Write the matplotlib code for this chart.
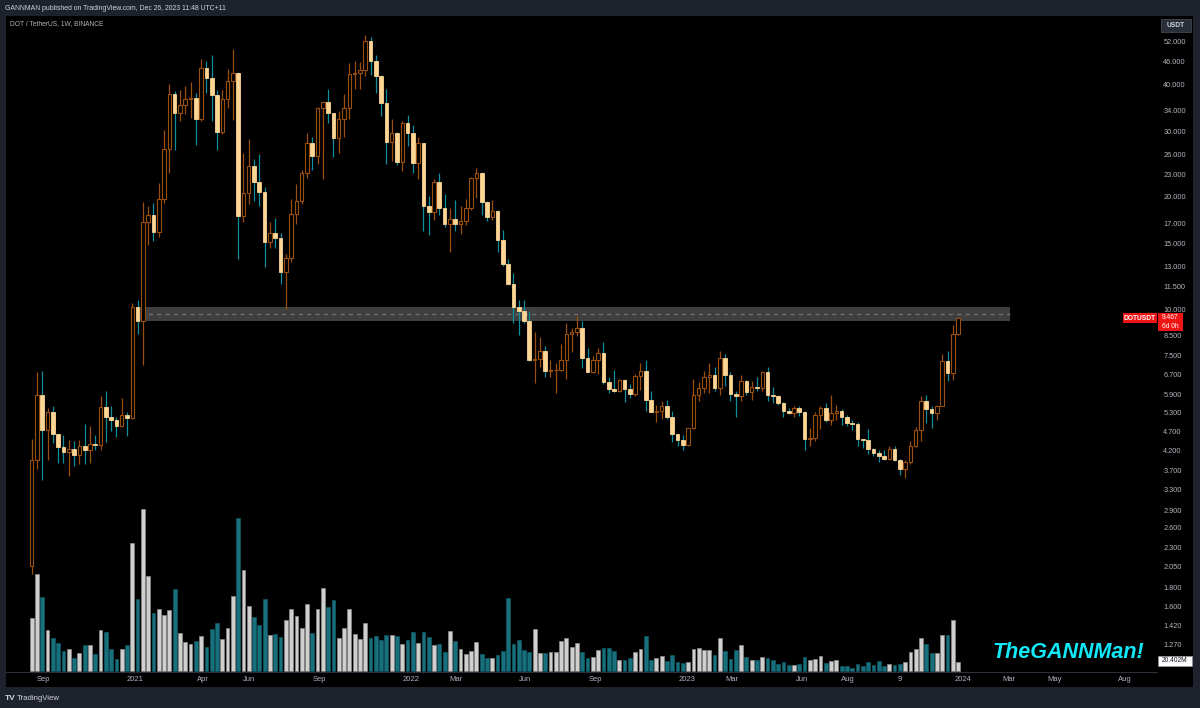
import numpy as np
import pandas as pd
import matplotlib
matplotlib.use('Agg')
import matplotlib.pyplot as plt
import matplotlib.dates as mdates
import matplotlib.ticker as mticker
from matplotlib.patches import Rectangle

# -----------------------------------------------------------------------------
# DOT / TetherUS weekly candles (Binance)
week_start = '2020-08-17'

opens = [
    2.05, 3.94, 5.9, 4.75, 5.3, 4.63, 4.27, 4.15, 4.22, 4.07,
    4.3, 4.2, 4.36, 4.32, 5.46, 5.15, 5.07, 4.88, 5.2, 5.13,
    10.15, 9.3, 17.1, 17.9, 16.1, 19.8, 26.9, 37.8, 33.5, 35.2,
    36.6, 36.9, 32.3, 44.4, 41.5, 37.5, 29.8, 36.6, 40.8, 42.9,
    17.8, 20.5, 24.2, 21.9, 20.6, 15.1, 16.0, 15.5, 12.6, 13.7,
    18.0, 19.5, 23.2, 27.8, 25.7, 34.5, 35.9, 33.5, 28.8, 32.3,
    34.5, 42.6, 42.9, 43.6, 52.3, 46.3, 42.1, 35.6, 28.1, 29.6,
    24.8, 31.6, 29.6, 24.7, 27.8, 18.9, 18.2, 21.9, 18.7, 16.9,
    17.5, 16.9, 17.2, 18.7, 22.5, 23.2, 19.4, 17.7, 18.3, 15.3,
    13.2, 11.7, 10.15, 9.9, 9.3, 7.3, 7.37, 7.75, 6.83, 6.87,
    6.9, 7.3, 8.6, 8.7, 8.9, 7.4, 6.8, 7.3, 7.64, 6.38,
    6.13, 6.05, 6.46, 6.13, 5.93, 6.63, 6.83, 5.72, 5.3, 5.33,
    5.52, 5.14, 4.63, 4.47, 4.34, 4.8, 5.9, 6.16, 6.6, 6.65,
    6.16, 7.4, 6.66, 5.93, 5.87, 6.42, 6.0, 6.2, 6.15, 6.8,
    5.9, 5.86, 5.6, 5.33, 5.28, 5.45, 5.3, 4.49, 4.52, 5.2,
    5.45, 5.05, 5.28, 5.35, 5.14, 4.96, 4.94, 4.49, 4.46, 4.22,
    4.13, 4.05, 3.98, 4.24, 3.96, 3.73, 3.9, 4.3, 4.75, 5.68,
    5.4, 5.27, 5.5, 7.28, 6.75, 8.6]

highs = [
    4.5, 6.79, 6.83, 5.44, 5.5, 4.65, 4.6, 4.46, 4.43, 4.46,
    4.93, 4.87, 4.6, 5.87, 6.04, 5.5, 5.15, 5.8, 5.3, 10.4,
    10.6, 19.4, 18.9, 19.3, 21.8, 30.2, 40.0, 38.5, 38.7, 39.7,
    40.5, 37.9, 46.9, 46.3, 48.0, 38.7, 38.7, 44.1, 49.9, 43.2,
    26.2, 28.6, 25.3, 26.0, 21.2, 17.1, 17.6, 16.0, 14.1, 19.8,
    21.6, 23.6, 29.6, 28.9, 34.9, 36.0, 38.9, 33.6, 33.9, 37.7,
    45.6, 46.3, 46.0, 54.3, 53.5, 48.0, 42.5, 38.9, 32.3, 29.8,
    31.9, 33.2, 31.2, 29.0, 27.9, 20.1, 22.4, 23.2, 20.4, 18.7,
    19.6, 18.9, 19.8, 22.6, 23.9, 23.3, 19.5, 19.6, 18.4, 16.3,
    13.6, 12.5, 10.6, 10.6, 9.9, 8.7, 8.45, 8.0, 7.3, 7.2,
    8.1, 9.2, 8.9, 9.6, 9.3, 7.9, 7.5, 7.9, 8.2, 6.6,
    6.9, 6.5, 6.5, 6.3, 6.72, 7.2, 7.3, 6.04, 5.55, 5.7,
    5.72, 5.34, 4.65, 4.6, 4.82, 6.5, 6.4, 6.85, 7.2, 7.0,
    7.75, 7.6, 6.8, 6.05, 6.66, 6.45, 6.42, 6.6, 6.85, 7.0,
    6.2, 5.9, 5.65, 5.45, 5.5, 5.5, 5.33, 4.8, 5.3, 5.5,
    5.6, 5.9, 5.55, 5.4, 5.2, 5.05, 5.0, 4.5, 4.78, 4.25,
    4.2, 4.2, 4.3, 4.3, 3.98, 3.95, 4.43, 4.85, 5.85, 5.9,
    5.5, 5.55, 7.6, 7.75, 9.1, 9.55]

lows = [
    1.95, 3.73, 3.5, 3.96, 4.38, 3.87, 3.87, 3.58, 3.81, 3.85,
    3.85, 3.87, 4.2, 4.2, 4.4, 4.72, 4.55, 4.83, 4.58, 5.1,
    8.6, 7.1, 14.9, 15.2, 15.6, 19.3, 23.2, 26.7, 31.9, 33.3,
    32.6, 27.6, 32.0, 37.9, 32.0, 26.7, 29.5, 34.5, 32.2, 13.6,
    17.1, 19.2, 19.5, 18.9, 13.0, 14.6, 14.6, 11.7, 10.0, 13.4,
    16.9, 19.2, 22.5, 23.6, 24.5, 22.4, 31.6, 25.5, 26.2, 29.0,
    32.3, 38.9, 38.9, 42.1, 42.5, 37.9, 32.9, 24.5, 25.0, 24.3,
    23.4, 27.4, 23.2, 22.4, 16.2, 15.8, 17.3, 17.9, 16.6, 14.2,
    16.2, 15.9, 16.8, 18.5, 19.9, 17.9, 17.2, 17.3, 14.2, 13.1,
    11.6, 9.2, 8.56, 9.2, 7.27, 6.35, 7.0, 6.6, 6.6, 5.97,
    6.83, 6.5, 7.7, 8.5, 6.95, 6.8, 6.75, 6.7, 6.3, 5.97,
    6.0, 6.0, 5.64, 5.8, 5.85, 6.1, 5.34, 5.3, 5.0, 5.1,
    5.1, 4.4, 4.3, 4.19, 4.3, 4.78, 5.68, 5.97, 5.97, 6.05,
    5.9, 6.25, 5.7, 5.14, 5.68, 5.9, 5.72, 6.05, 6.05, 5.7,
    5.6, 5.55, 5.15, 5.25, 5.15, 5.17, 4.2, 4.3, 4.43, 4.78,
    5.0, 4.9, 5.05, 4.9, 4.86, 4.75, 4.3, 4.25, 4.1, 4.05,
    3.9, 3.96, 3.95, 3.92, 3.6, 3.53, 3.86, 4.28, 4.43, 4.96,
    4.8, 5.05, 5.5, 6.42, 6.47, 8.55]

closes = [
    3.94, 5.9, 4.75, 5.3, 4.63, 4.27, 4.15, 4.22, 4.07, 4.3,
    4.2, 4.36, 4.32, 5.46, 5.15, 5.07, 4.88, 5.2, 5.13, 10.15,
    9.3, 17.1, 17.9, 16.1, 19.8, 26.9, 37.8, 33.5, 35.2, 36.6,
    36.9, 32.3, 44.4, 41.5, 37.5, 29.8, 36.6, 40.8, 42.9, 17.8,
    20.5, 24.2, 21.9, 20.6, 15.1, 16.0, 15.5, 12.6, 13.7, 18.0,
    19.5, 23.2, 27.8, 25.7, 34.5, 35.9, 33.5, 28.8, 32.3, 34.5,
    42.6, 42.9, 43.6, 52.3, 46.3, 42.1, 35.6, 28.1, 29.6, 24.8,
    31.6, 29.6, 24.7, 27.8, 18.9, 18.2, 21.9, 18.7, 16.9, 17.5,
    16.9, 17.2, 18.7, 22.5, 23.2, 19.4, 17.7, 18.3, 15.3, 13.2,
    11.7, 10.15, 9.9, 9.3, 7.3, 7.37, 7.75, 6.83, 6.87, 6.9,
    7.3, 8.6, 8.7, 8.9, 7.4, 6.8, 7.3, 7.64, 6.38, 6.13,
    6.05, 6.46, 6.13, 5.93, 6.63, 6.83, 5.72, 5.3, 5.33, 5.52,
    5.14, 4.63, 4.47, 4.34, 4.8, 5.9, 6.16, 6.6, 6.65, 6.16,
    7.4, 6.66, 5.93, 5.87, 6.42, 6.0, 6.2, 6.15, 6.8, 5.9,
    5.86, 5.6, 5.33, 5.28, 5.45, 5.3, 4.49, 4.52, 5.2, 5.45,
    5.05, 5.28, 5.35, 5.14, 4.96, 4.94, 4.49, 4.46, 4.22, 4.13,
    4.05, 3.98, 4.24, 3.96, 3.73, 3.9, 4.3, 4.75, 5.68, 5.4,
    5.27, 5.5, 7.28, 6.75, 8.6, 9.467]

# weekly volume, millions
volumes = [
    116, 214, 163, 90, 73, 61, 45, 48, 29, 40,
    57, 57, 38, 91, 86, 48, 26, 48, 57, 282,
    159, 357, 209, 128, 136, 123, 134, 180, 84, 63,
    60, 65, 78, 53, 93, 106, 70, 95, 164, 337,
    223, 144, 119, 101, 159, 79, 81, 75, 112, 136,
    121, 95, 148, 84, 136, 183, 141, 156, 73, 95,
    136, 81, 70, 106, 73, 78, 68, 79, 79, 76,
    59, 69, 86, 62, 86, 75, 57, 60, 42, 87,
    65, 48, 37, 44, 63, 38, 29, 29, 35, 43,
    161, 60, 68, 46, 42, 93, 40, 40, 42, 42,
    66, 73, 53, 62, 42, 29, 31, 46, 51, 50,
    44, 24, 24, 29, 42, 48, 77, 24, 29, 32,
    22, 35, 20, 17, 20, 48, 50, 46, 46, 36,
    73, 43, 27, 47, 58, 31, 24, 24, 31, 29,
    24, 15, 19, 13, 13, 15, 31, 24, 27, 32,
    18, 22, 24, 12, 10, 7, 15, 12, 20, 13,
    22, 12, 15, 13, 15, 20, 42, 48, 73, 59,
    40, 40, 79, 79, 112, 20.402]

price_ticks = [52, 46, 40, 34, 30, 26, 23, 20, 17, 15, 13, 11.5, 10, 8.5,
               7.5, 6.7, 5.9, 5.3, 4.7, 4.2, 3.7, 3.3, 2.9, 2.6, 2.3, 2.05,
               1.8, 1.6, 1.42, 1.27]
time_ticks = ['2020-09-01', '2021-01-01', '2021-04-01', '2021-06-01',
              '2021-09-01', '2022-01-01', '2022-03-01', '2022-06-01',
              '2022-09-01', '2023-01-01', '2023-03-01', '2023-06-01',
              '2023-08-01', '2023-10-09', '2024-01-01', '2024-03-01',
              '2024-05-01', '2024-08-01']
time_labels = ['Sep', '2021', 'Apr', 'Jun', 'Sep', '2022', 'Mar', 'Jun',
               'Sep', '2023', 'Mar', 'Jun', 'Aug', '9', '2024', 'Mar',
               'May', 'Aug']

zone_low, zone_high = 9.31, 10.15
zone_start, zone_end = '2021-01-07', '2024-03-03'

# -----------------------------------------------------------------------------
W, H = 1200, 708
FRAME = '#1e222d'
UP_EDGE = '#9a4f0e'
DN_BODY = '#fdd595'
DN_WICK = '#0f8f99'
VOL_UP = '#cfcfcf'
VOL_DN = '#17707b'
TXT = '#b2b5be'


def fx(px):
    return px / W


def fy(py):
    return 1 - py / H


fig = plt.figure(figsize=(W / 100, H / 100), dpi=100, facecolor=FRAME)
fig.add_artist(Rectangle((fx(6), fy(687)), fx(1193) - fx(6), fy(16) - fy(687),
                         transform=fig.transFigure, facecolor='black',
                         edgecolor='none', zorder=-5))

ax = fig.add_axes([fx(6), fy(672), fx(1157) - fx(6), fy(16) - fy(672)])
ax2 = ax.twinx()
ax.set_zorder(2)
ax2.set_zorder(1)
ax.patch.set_visible(False)
ax2.patch.set_visible(False)

x = mdates.date2num(pd.date_range(week_start, periods=len(closes), freq='7D'))
o, h, l, c = map(np.array, (opens, highs, lows, closes))
up = c >= o
top = np.maximum(o, c)
bot = np.minimum(o, c)

ax.set_yscale('log')
ax.set_ylim(1.069, 61.0)
ax.set_xlim(mdates.date2num(pd.Timestamp('2020-07-14')),
            mdates.date2num(pd.Timestamp('2024-09-13')))

# resistance zone with dashed mid line
z0 = mdates.date2num(pd.Timestamp(zone_start))
z1 = mdates.date2num(pd.Timestamp(zone_end))
ax.add_patch(Rectangle((z0, zone_low), z1 - z0, zone_high - zone_low,
                       facecolor='#3f3f3f', edgecolor='none', zorder=1))
ax.plot([z0, z1], [np.sqrt(zone_low * zone_high)] * 2, color='#707070',
        lw=1, dashes=(3, 3), zorder=1.5)

# candles
wick_col = np.where(up, UP_EDGE, DN_WICK)
ax.vlines(x, top, h, colors=wick_col, lw=0.9, zorder=3)
ax.vlines(x, l, bot, colors=wick_col, lw=0.9, zorder=3)
ax.bar(x[up], (top - bot)[up], bottom=bot[up], width=4.6, facecolor='black',
       edgecolor=UP_EDGE, linewidth=0.8, zorder=4)
ax.bar(x[~up], (top - bot)[~up], bottom=bot[~up], width=4.9,
       facecolor=DN_BODY, edgecolor=DN_BODY, linewidth=0.6, zorder=4)

# volume
ax2.bar(x, volumes, width=5.0, color=np.where(up, VOL_UP, VOL_DN),
        edgecolor=np.where(up, '#8c8c8c', '#0f5964'), linewidth=0.5)
ax2.set_ylim(-2.2, 1441)
ax2.axis('off')

# axes cosmetics
for s in ax.spines.values():
    s.set_visible(False)
ax.spines['bottom'].set_visible(True)
ax.spines['bottom'].set_color('#2a2e39')
ax.yaxis.tick_right()
ax.set_yticks(price_ticks)
ax.set_yticklabels([f'{t:.3f}' for t in price_ticks])
ax.yaxis.set_minor_locator(mticker.NullLocator())
ax.tick_params(axis='y', length=0, pad=4.5, labelsize=5.3, labelcolor=TXT)
ax.set_xticks(mdates.date2num(pd.to_datetime(time_ticks)))
ax.set_xticklabels(time_labels)
ax.xaxis.set_minor_locator(mticker.NullLocator())
ax.tick_params(axis='x', length=0, pad=3, labelsize=5.5, labelcolor=TXT)
for lab in ax.get_xticklabels() + ax.get_yticklabels():
    lab.set_fontfamily('Liberation Sans')

# header / footer texts
fig.text(fx(5), fy(8), 'GANNMAN published on TradingView.com, Dec 26, 2023 11:48 UTC+11',
         color='#d1d4dc', fontsize=4.95, family='Liberation Sans', va='center')
fig.text(fx(10), fy(24), 'DOT / TetherUS, 1W, BINANCE', color=TXT,
         fontsize=4.8, family='Liberation Sans', va='center')
fig.text(fx(5), fy(698), 'TV', color='#d1d4dc', fontsize=6, weight='bold',
         family='Liberation Sans', va='center')
fig.text(fx(17), fy(698), 'TradingView', color='#d1d4dc', fontsize=5.6,
         family='Liberation Sans', va='center')

# USDT button
fig.add_artist(Rectangle((fx(1161), fy(32)), fx(1191) - fx(1161), fy(19) - fy(32),
                         transform=fig.transFigure, facecolor='#2a2e39',
                         edgecolor='#434651', lw=0.6))
fig.text(fx(1176), fy(25.5), 'USDT', color='#d1d4dc', fontsize=4.8, weight='bold',
         family='Liberation Sans', ha='center', va='center')

# last price labels
fig.add_artist(Rectangle((fx(1123), fy(323)), fx(1157) - fx(1123), fy(313) - fy(323),
                         transform=fig.transFigure, facecolor='#f01515',
                         edgecolor='none'))
fig.text(fx(1140), fy(318), 'DOTUSDT', color='white', fontsize=4.8, weight='bold',
         family='Liberation Sans', ha='center', va='center')
fig.add_artist(Rectangle((fx(1158), fy(331)), fx(1183) - fx(1158), fy(313) - fy(331),
                         transform=fig.transFigure, facecolor='#f01515',
                         edgecolor='none'))
fig.text(fx(1170), fy(317.5), f'{closes[-1]:.3f}', color='white', fontsize=4.8,
         family='Liberation Sans', ha='center', va='center')
fig.text(fx(1170), fy(326.5), '6d 0h', color='white', fontsize=4.8,
         family='Liberation Sans', ha='center', va='center')

# last volume label
fig.add_artist(Rectangle((fx(1158), fy(666)), fx(1192) - fx(1158), fy(656) - fy(666),
                         transform=fig.transFigure, facecolor='white',
                         edgecolor='#9598a1', lw=0.5))
fig.text(fx(1175), fy(661), f'{volumes[-1]:.3f}M', color='#131722', fontsize=4.8,
         family='Liberation Sans', ha='center', va='center')

# signature
fig.text(fx(992), fy(652), 'TheGANNMan!', color='#12e8f8', fontsize=15.5,
         style='italic', weight='bold', family='Liberation Sans', va='center')

plt.savefig('out.png', dpi=100, facecolor=FRAME)
